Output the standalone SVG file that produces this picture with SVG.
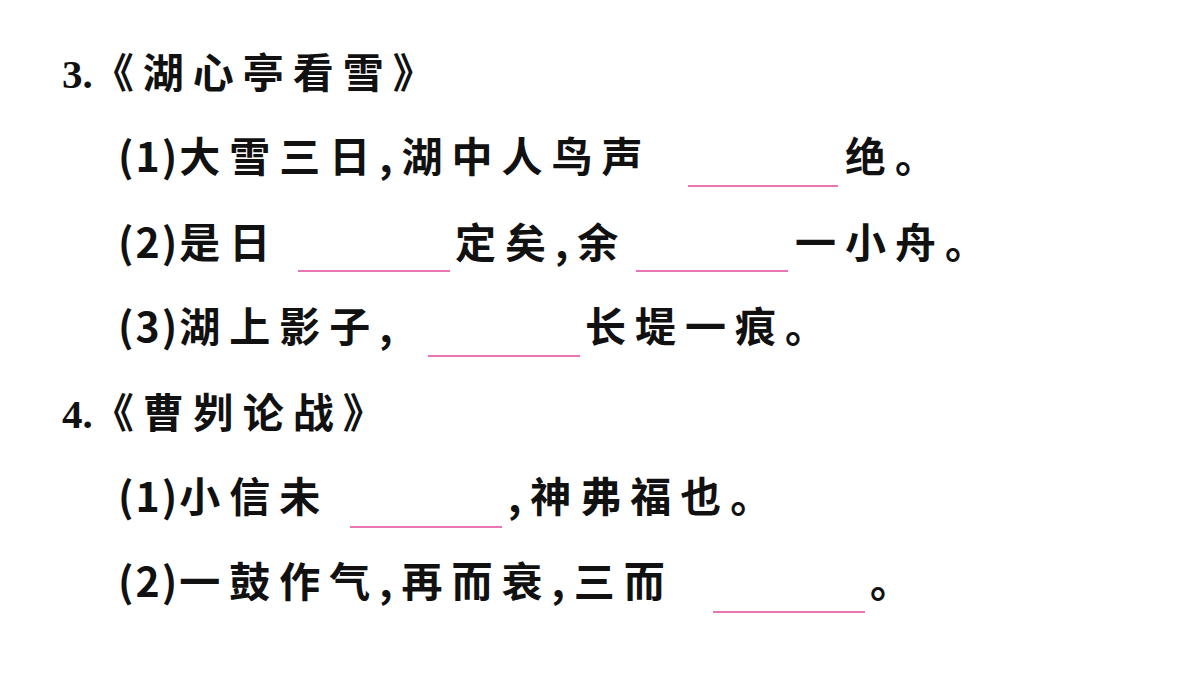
<svg xmlns="http://www.w3.org/2000/svg" width="1200" height="675" viewBox="0 0 1200 675">
<style>
text{font-family:"Noto Sans CJK SC","Noto Sans",sans-serif;font-size:41px;font-weight:bold;letter-spacing:9px;fill:#111}
.n{font-family:"Liberation Serif",serif;font-weight:bold;letter-spacing:0}
.p{letter-spacing:2px}
line{stroke:#e0489c;stroke-width:1.5}
</style>
<rect width="1200" height="675" fill="#fff"/>
<text x="62" y="88"><tspan class="n">3.</tspan>《湖心亭看雪》</text>
<text x="118" y="172"><tspan class="p">(1)</tspan>大雪三日,湖中人鸟声</text><line x1="688" y1="186" x2="838" y2="186"/><text x="845" y="172">绝。</text>
<text x="118" y="258"><tspan class="p">(2)</tspan>是日</text><line x1="298" y1="271" x2="450" y2="271"/><text x="455" y="258">定矣,余</text><line x1="636" y1="271" x2="788" y2="271"/><text x="795" y="258">一小舟。</text>
<text x="118" y="342"><tspan class="p">(3)</tspan>湖上影子,</text><line x1="428" y1="356" x2="580" y2="356"/><text x="585" y="342">长堤一痕。</text>
<text x="62" y="428"><tspan class="n">4.</tspan>《曹刿论战》</text>
<text x="118" y="512"><tspan class="p">(1)</tspan>小信未</text><line x1="350" y1="527" x2="502" y2="527"/><text x="508" y="512">,神弗福也。</text>
<text x="118" y="597"><tspan class="p">(2)</tspan>一鼓作气,再而衰,三而</text><line x1="713" y1="612" x2="865" y2="612"/><text x="870" y="597">。</text>
</svg>
